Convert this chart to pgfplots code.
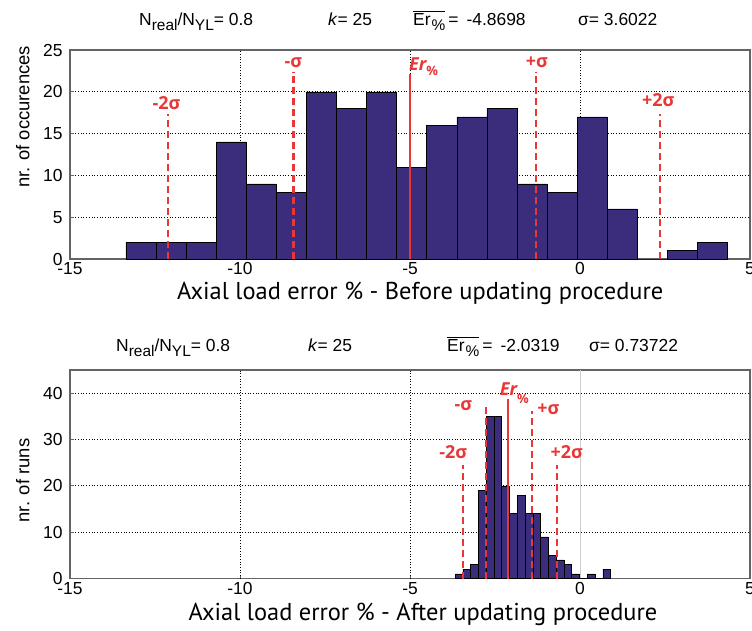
\documentclass[border=0pt]{standalone}
\usepackage{pgfplots}
\pgfplotsset{compat=1.18}
\usepackage{fontspec}
\setmainfont{Liberation Sans}
\newfontfamily\labfont{PT Sans}
\newfontfamily\redfont{Open Sans}
\definecolor{barblue}{RGB}{60,44,124}
\definecolor{myred}{RGB}{233,55,55}
\definecolor{axgray}{RGB}{100,100,100}
\newcommand{\sub}[1]{\raisebox{-0.55ex}{\fontsize{15.5}{15.5}\selectfont #1}}
\tikzset{redlab/.style={myred, font=\redfont\bfseries\fontsize{18}{18}\selectfont}}
\pgfplotsset{
 myax/.style={scale only axis, width=680bp, xmin=-15, xmax=5, xtick={-15,-10,-5,0,5},
  anchor=south west, axis line style={axgray, line width=1.3pt},
  tick style={axgray, line width=0.8pt}, tick align=inside, major tick length=4bp,
  xtick pos=bottom, ytick pos=left,
  ymajorgrids, grid style={black, line width=0.7pt, dotted},
  tick label style={font=\fontsize{17.5}{17.5}\selectfont},
  yticklabel style={xshift=-4bp},
  /pgf/number format/assume math mode=true,
  ylabel style={font=\fontsize{18.5}{18.5}\selectfont, anchor=center},
  clip=false,
 },
 redl/.style={myred, line width=2.3pt, dash pattern=on 7bp off 4bp},
 redm/.style={myred, line width=2pt},
 bars/.style={ybar interval, fill=barblue, draw=black, line width=0.5pt},
}
\begin{document}
\begin{tikzpicture}
\useasboundingbox (0bp,-631bp) rectangle (752bp,0bp);
% ---------------- top panel ----------------
\begin{axis}[myax, at={(70bp,-259bp)}, height=209bp, ymin=0, ymax=25, ytick={0,5,10,15,20,25},
  xmajorgrids, ylabel={nr. of occurences},
  ylabel style={at={(axis description cs:-0.0695,0.68)}},
  xlabel={Axial load error \% - Before updating procedure},
  xlabel style={at={(axis description cs:0.515,-0.163)}, anchor=center, font=\labfont\fontsize{24.5}{24.5}\selectfont}]
\addplot[bars] coordinates {
(-13.353,2) (-12.469,2) (-11.584,2) (-10.700,14) (-9.816,9) (-8.931,8) (-8.047,20)
(-7.163,18) (-6.278,20) (-5.394,11) (-4.510,16) (-3.625,17) (-2.741,18) (-1.857,9)
(-0.973,8) (-0.088,17) (0.796,6) (1.680,0) (2.565,1) (3.449,2) (4.333,2)};
\addplot[redl] coordinates {(-12.11,0) (-12.11,17.3)};
\addplot[redl] coordinates {(-8.43,0) (-8.43,22.4)};
\addplot[redm] coordinates {(-5.0,0) (-5.0,22.1)};
\addplot[redl] coordinates {(-1.29,0) (-1.29,22.4)};
\addplot[redl] coordinates {(2.35,0) (2.35,17.3)};
\node[redlab] at (axis cs:-12.16,18.6) {-2σ};
\node[redlab] at (axis cs:-8.43,23.5) {-σ};
\node[redlab, anchor=west, inner sep=0pt] at (axis cs:-5.03,23.0) {\itshape Er\raisebox{-0.5ex}{\fontsize{13}{13}\selectfont\upshape\%}};
\node[redlab] at (axis cs:-1.27,23.5) {+σ};
\node[redlab] at (axis cs:2.30,19.0) {+2σ};
\end{axis}
% ---------------- bottom panel ----------------
\begin{axis}[myax, at={(70bp,-578.5bp)}, height=208.5bp, ymin=0, ymax=45, ytick={0,10,20,30,40},
  ylabel={nr. of runs},
  ylabel style={at={(axis description cs:-0.0695,0.47)}},
  xlabel={Axial load error \% - After updating procedure},
  xlabel style={at={(axis description cs:0.519,-0.170)}, anchor=center, font=\labfont\fontsize{24.5}{24.5}\selectfont}]
\addplot[black, line width=0.7pt, dotted] coordinates {(-10,0) (-10,45)};
\addplot[black, line width=0.7pt, dotted] coordinates {(-5,0) (-5,45)};
\addplot[black!20, line width=0.8pt] coordinates {(0,0) (0,45)};
\addplot[bars] coordinates {
(-3.676,1) (-3.447,2) (-3.219,3) (-2.990,19) (-2.761,35) (-2.533,35) (-2.304,20)
(-2.075,14) (-1.846,18) (-1.618,14) (-1.389,14) (-1.160,9) (-0.932,5) (-0.703,4)
(-0.474,3) (-0.246,1) (-0.017,0) (0.212,1) (0.441,0) (0.669,2) (0.898,2)};
\addplot[redl] coordinates {(-3.45,0) (-3.45,24.6)};
\addplot[redl] coordinates {(-2.77,0) (-2.77,37.2)};
\addplot[redm] coordinates {(-2.12,0) (-2.12,38.8)};
\addplot[redl] coordinates {(-1.42,0) (-1.42,36.2)};
\addplot[redl] coordinates {(-0.67,0) (-0.67,24.6)};
\node[redlab] at (axis cs:-3.73,27.3) {-2σ};
\node[redlab] at (axis cs:-3.43,37.3) {-σ};
\node[redlab, anchor=west, inner sep=0pt] at (axis cs:-2.36,40.0) {\itshape Er\raisebox{-0.9ex}{\fontsize{13}{13}\selectfont\upshape\%}};
\node[redlab] at (axis cs:-0.93,36.6) {+σ};
\node[redlab] at (axis cs:-0.39,27.3) {+2σ};
\end{axis}
% ---------------- titles ----------------
\begin{scope}[every node/.style={anchor=base west, inner sep=0pt, font=\fontsize{17.5}{17.5}\selectfont}]
\node at (139bp,-25bp) {N\sub{real}/N\sub{YL}= 0.8};
\node at (328bp,-25bp) {\textit{k}= 25};
\node at (413bp,-25bp) {$\overline{\hbox{Er\hspace{1bp}\sub{\%}}}$\hspace{3bp}=\hspace{8bp}-4.8698};
\node at (578bp,-25bp) {σ= 3.6022};
\node at (116bp,-351bp) {N\sub{real}/N\sub{YL}= 0.8};
\node at (308bp,-351bp) {\textit{k}= 25};
\node at (447bp,-351bp) {$\overline{\hbox{Er\hspace{1bp}\sub{\%}}}$\hspace{3bp}=\hspace{8bp}-2.0319};
\node at (589bp,-351bp) {σ= 0.73722};
\end{scope}
\end{tikzpicture}
\end{document}
